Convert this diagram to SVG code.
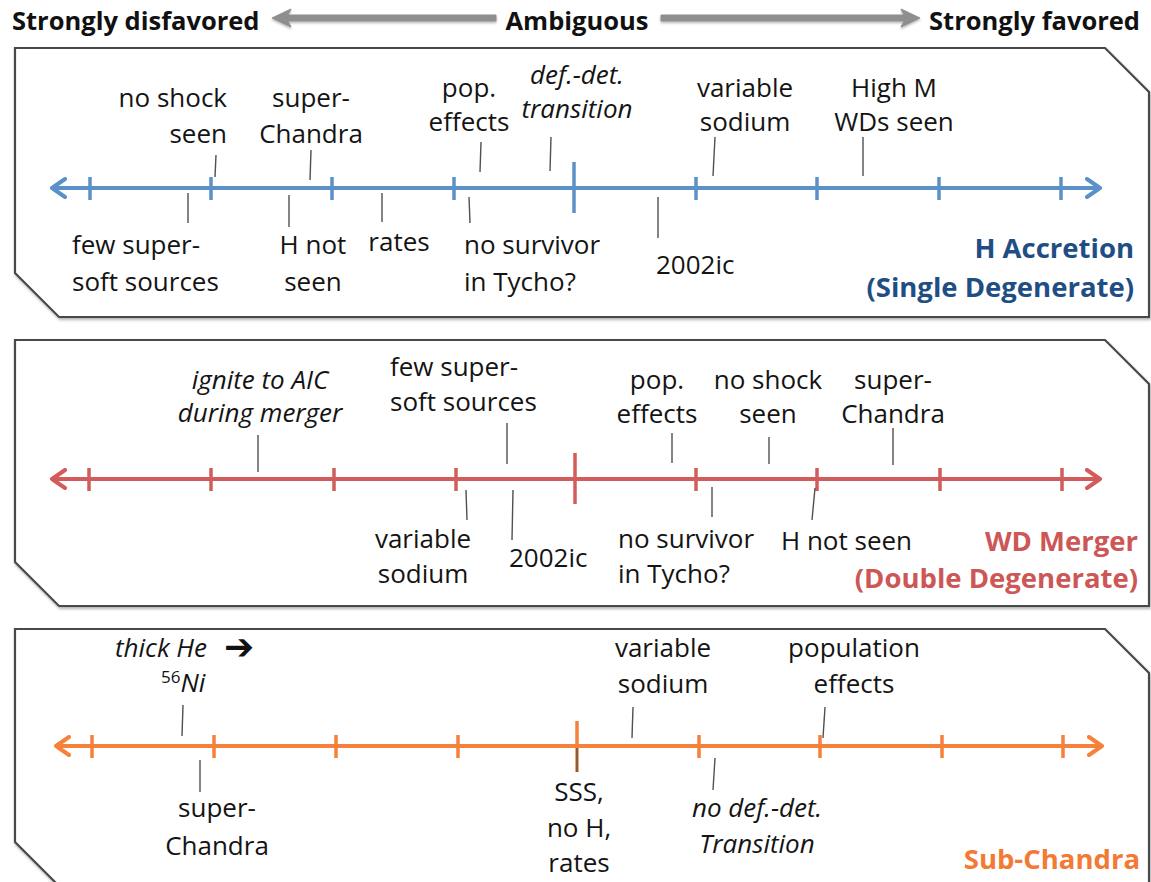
<svg xmlns="http://www.w3.org/2000/svg" width="1151" height="882" viewBox="0 0 1151 882">
<style>
.t{font-family:"Open Sans","DejaVu Sans",sans-serif;font-size:26px;fill:#141414}
.i{font-style:italic}
.c{text-anchor:middle}
.e{text-anchor:end}
.h{font-family:"Open Sans","DejaVu Sans",sans-serif;font-size:25.5px;font-weight:bold;fill:#111}
.lb{font-family:"Open Sans","DejaVu Sans",sans-serif;font-size:27.5px;font-weight:bold;text-anchor:end}
.panel{fill:#fff;stroke:#4a4a4a;stroke-width:2.2;filter:url(#sh)}
.lead{stroke:#505050;stroke-width:1.4;fill:none}
.ax{stroke-width:4;fill:none}
.tick{stroke-width:3.5}
.blue{stroke:#5B91C9}
.red{stroke:#D25C5C}
.org{stroke:#F6813B}
</style>
<defs>
<filter id="sh" x="-5%" y="-5%" width="110%" height="115%">
<feDropShadow dx="1" dy="2" stdDeviation="1.5" flood-color="#000" flood-opacity="0.3"/>
</filter>
<filter id="sh2" filterUnits="userSpaceOnUse" x="250" y="0" width="700" height="40">
<feDropShadow dx="0" dy="1.5" stdDeviation="1.2" flood-color="#000" flood-opacity="0.3"/>
</filter>
<marker id="mb" viewBox="0 0 18 22" refX="15" refY="11" markerWidth="18" markerHeight="22" markerUnits="userSpaceOnUse" orient="auto-start-reverse"><path d="M2,2 L15,11 L2,20" fill="none" stroke="#5B91C9" stroke-width="4" stroke-linecap="round" stroke-linejoin="round"/></marker>
<marker id="mr" viewBox="0 0 18 22" refX="15" refY="11" markerWidth="18" markerHeight="22" markerUnits="userSpaceOnUse" orient="auto-start-reverse"><path d="M2,2 L15,11 L2,20" fill="none" stroke="#D25C5C" stroke-width="4" stroke-linecap="round" stroke-linejoin="round"/></marker>
<marker id="mo" viewBox="0 0 18 22" refX="15" refY="11" markerWidth="18" markerHeight="22" markerUnits="userSpaceOnUse" orient="auto-start-reverse"><path d="M2,2 L15,11 L2,20" fill="none" stroke="#F6813B" stroke-width="4" stroke-linecap="round" stroke-linejoin="round"/></marker>
</defs>
<rect width="1151" height="882" fill="#fff"/>

<g id="header">
<text class="h" x="12" y="30">Strongly disfavored</text>
<text class="h c" x="577" y="30">Ambiguous</text>
<text class="h e" x="1140" y="30">Strongly favored</text>
<g filter="url(#sh2)" fill="#8e8e8e">
<path d="M496,15 H288 L291,9 L272,18 L291,27 L288,21 H496 Z" stroke="#8e8e8e" stroke-width="1" stroke-linejoin="round"/>
<path d="M661,15 H904 L901,9 L920,18 L901,27 L904,21 H661 Z" stroke="#8e8e8e" stroke-width="1" stroke-linejoin="round"/>
</g>
</g>

<g id="panel-sd">
<path class="panel" d="M15,48 H1105 L1149,92 V317 H59 L15,273 Z"/>
<line class="ax blue" x1="52" y1="188" x2="1100" y2="188" marker-start="url(#mb)" marker-end="url(#mb)"/>
<g class="tick blue">
<line x1="90" y1="177" x2="90" y2="200"/><line x1="211" y1="177" x2="211" y2="200"/><line x1="332" y1="177" x2="332" y2="200"/><line x1="454" y1="177" x2="454" y2="200"/><line x1="574" y1="162" x2="574" y2="213"/><line x1="696" y1="177" x2="696" y2="200"/><line x1="817" y1="177" x2="817" y2="200"/><line x1="939" y1="177" x2="939" y2="200"/><line x1="1061" y1="177" x2="1061" y2="200"/>
</g>
<text class="lb" x="1134" y="258" fill="#1F4E85">H Accretion</text>
<text class="lb" x="1134" y="297" fill="#1F4E85">(Single Degenerate)</text>
</g>

<g id="panel-dd">
<path class="panel" d="M15,340 H1105 L1149,384 V606 H59 L15,562 Z"/>
<line class="ax red" x1="52" y1="479" x2="1100" y2="479" marker-start="url(#mr)" marker-end="url(#mr)"/>
<g class="tick red">
<line x1="89" y1="468" x2="89" y2="491"/><line x1="211" y1="468" x2="211" y2="491"/><line x1="334" y1="468" x2="334" y2="491"/><line x1="456" y1="468" x2="456" y2="491"/><line x1="575" y1="453" x2="575" y2="504"/><line x1="696" y1="468" x2="696" y2="491"/><line x1="817" y1="468" x2="817" y2="491"/><line x1="940" y1="468" x2="940" y2="491"/><line x1="1062" y1="468" x2="1062" y2="491"/>
</g>
<text class="lb" x="1138" y="551" fill="#CD5656">WD Merger</text>
<text class="lb" x="1138" y="588" fill="#CD5656">(Double Degenerate)</text>
</g>

<g id="panel-sub">
<path class="panel" d="M15,629 H1105 L1149,673 V886 H59 L15,842 Z"/>
<line class="ax org" x1="56" y1="746" x2="1102" y2="746" marker-start="url(#mo)" marker-end="url(#mo)"/>
<g class="tick org">
<line x1="92" y1="735" x2="92" y2="758"/><line x1="214" y1="735" x2="214" y2="758"/><line x1="336" y1="735" x2="336" y2="758"/><line x1="458" y1="735" x2="458" y2="758"/><line x1="577" y1="721" x2="577" y2="772"/><line x1="699" y1="735" x2="699" y2="758"/><line x1="820" y1="735" x2="820" y2="758"/><line x1="942" y1="735" x2="942" y2="758"/><line x1="1063" y1="735" x2="1063" y2="758"/>
</g>
<text class="lb" x="1140" y="869" fill="#F27A35">Sub-Chandra</text>
</g>

<g id="connectors">
<line class="lead" x1="216" y1="155" x2="215" y2="177"/>
<line class="lead" x1="311" y1="150" x2="310" y2="180"/>
<line class="lead" x1="481" y1="142" x2="480" y2="172"/>
<line class="lead" x1="551" y1="137" x2="550" y2="171"/>
<line class="lead" x1="188" y1="193" x2="188" y2="223"/>
<line class="lead" x1="289" y1="195" x2="289" y2="227"/>
<line class="lead" x1="382" y1="193" x2="382" y2="222"/>
<line class="lead" x1="469" y1="197" x2="470" y2="223"/>
<line class="lead" x1="715" y1="137" x2="713" y2="176"/>
<line class="lead" x1="863" y1="137" x2="863" y2="176"/>
<line class="lead" x1="658" y1="197" x2="658" y2="238"/>
<line class="lead" x1="258" y1="435" x2="258" y2="472"/>
<line class="lead" x1="507" y1="423" x2="507" y2="464"/>
<line class="lead" x1="466" y1="490" x2="467" y2="520"/>
<line class="lead" x1="513" y1="490" x2="512" y2="540"/>
<line class="lead" x1="672" y1="433" x2="672" y2="463"/>
<line class="lead" x1="769" y1="437" x2="769" y2="464"/>
<line class="lead" x1="893" y1="428" x2="893" y2="465"/>
<line class="lead" x1="712" y1="487" x2="712" y2="517"/>
<line class="lead" x1="815" y1="488" x2="812" y2="520"/>
<line class="lead" x1="183" y1="705" x2="182" y2="736"/>
<line class="lead" x1="200" y1="760" x2="200" y2="792"/>
<line class="lead" x1="577" y1="748" x2="577" y2="772"/>
<line class="lead" x1="633" y1="707" x2="632" y2="738"/>
<line class="lead" x1="825" y1="707" x2="823" y2="738"/>
<line class="lead" x1="715" y1="758" x2="713" y2="790"/>
</g>

<g id="sd-noshock"><text class="t e" x="227" y="107">no shock</text><text class="t e" x="227" y="143">seen</text></g>
<g id="sd-superch"><text class="t c" x="311" y="107">super-</text><text class="t c" x="311" y="143">Chandra</text></g>
<g id="sd-pop"><text class="t c" x="469" y="97">pop.</text><text class="t c" x="469" y="131">effects</text></g>
<g id="sd-defdet"><text class="t c i" x="577" y="84">def.-det.</text><text class="t c i" x="577" y="118">transition</text></g>
<g id="sd-sodium"><text class="t c" x="745" y="97">variable</text><text class="t c" x="745" y="131">sodium</text></g>
<g id="sd-highm"><text class="t c" x="894" y="97">High M</text><text class="t c" x="894" y="131">WDs seen</text></g>
<g id="sd-sss"><text class="t" x="72" y="254">few super-</text><text class="t" x="72" y="291">soft sources</text></g>
<g id="sd-hnot"><text class="t c" x="313" y="254">H not</text><text class="t c" x="313" y="291">seen</text></g>
<g id="sd-rates"><text class="t c" x="399" y="251">rates</text></g>
<g id="sd-surv"><text class="t" x="464" y="254">no survivor</text><text class="t" x="464" y="291">in Tycho?</text></g>
<g id="sd-2002ic"><text class="t" x="656" y="274">2002ic</text></g>

<g id="dd-aic"><text class="t c i" x="260" y="389">ignite to AIC</text><text class="t c i" x="260" y="422">during merger</text></g>
<g id="dd-sss"><text class="t" x="390" y="376">few super-</text><text class="t" x="390" y="411">soft sources</text></g>
<g id="dd-sodium"><text class="t c" x="423" y="548">variable</text><text class="t c" x="423" y="583">sodium</text></g>
<g id="dd-2002ic"><text class="t" x="509" y="567">2002ic</text></g>
<g id="dd-pop"><text class="t c" x="657" y="389">pop.</text><text class="t c" x="657" y="423">effects</text></g>
<g id="dd-noshock"><text class="t c" x="768" y="389">no shock</text><text class="t c" x="768" y="423">seen</text></g>
<g id="dd-superch"><text class="t c" x="893" y="389">super-</text><text class="t c" x="893" y="423">Chandra</text></g>
<g id="dd-surv"><text class="t" x="618" y="548">no survivor</text><text class="t" x="618" y="583">in Tycho?</text></g>
<g id="dd-hnot"><text class="t" x="781" y="550">H not seen</text></g>

<g id="sub-thickhe"><text class="t i" x="115" y="657">thick He</text><text x="224" y="659" font-family="DejaVu Sans, sans-serif" font-size="36" font-weight="bold" fill="#111">➔</text><text class="t i" x="161" y="692"><tspan font-size="17" font-style="normal" dy="-9">56</tspan><tspan dy="9">Ni</tspan></text></g>
<g id="sub-superch"><text class="t c" x="217" y="817">super-</text><text class="t c" x="217" y="855">Chandra</text></g>
<g id="sub-sss"><text class="t c" x="579" y="801">SSS,</text><text class="t c" x="579" y="837">no H,</text><text class="t c" x="579" y="872">rates</text></g>
<g id="sub-sodium"><text class="t c" x="663" y="657">variable</text><text class="t c" x="663" y="693">sodium</text></g>
<g id="sub-pop"><text class="t c" x="854" y="657">population</text><text class="t c" x="854" y="693">effects</text></g>
<g id="sub-defdet"><text class="t c i" x="757" y="817">no def.-det.</text><text class="t c i" x="757" y="853">Transition</text></g>
</svg>
